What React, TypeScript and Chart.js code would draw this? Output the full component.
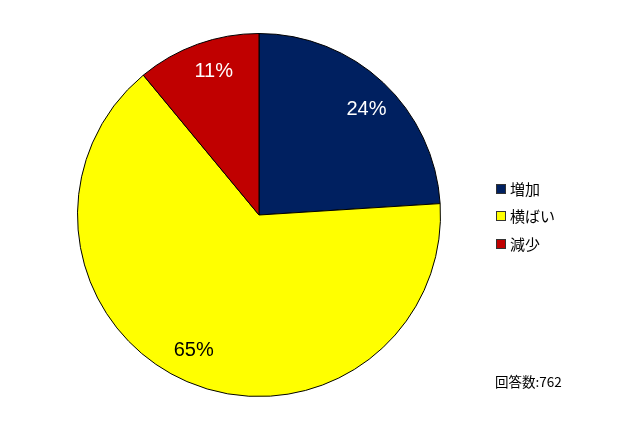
import { useEffect, useRef } from "react";
import { Chart, registerables, type ChartConfiguration, type Plugin } from "chart.js";

Chart.register(...registerables);

const categories = ["増加", "横ばい", "減少"];
const shares = [24, 65, 11];
const sliceColors = ["#002060", "#FFFF00", "#C00000"];
const labelColors = ["#ffffff", "#000000", "#ffffff"];
const respondents = 762;

// percentage labels inside each slice
const sliceLabels: Plugin<"pie"> = {
  id: "sliceLabels",
  afterDatasetsDraw(chart) {
    const { ctx } = chart;
    const meta = chart.getDatasetMeta(0);
    ctx.save();
    ctx.font = '20px "Liberation Sans", Arial, sans-serif';
    ctx.textAlign = "center";
    ctx.textBaseline = "middle";
    meta.data.forEach((el: any, i) => {
      const mid = (el.startAngle + el.endAngle) / 2 + 0.04;
      const r = el.outerRadius * 0.83;
      ctx.fillStyle = labelColors[i];
      ctx.fillText(shares[i] + "%", el.x + Math.cos(mid) * r, el.y + Math.sin(mid) * r);
    });
    ctx.restore();
  },
};

export default function App() {
  const canvasRef = useRef<HTMLCanvasElement>(null);
  const chartRef = useRef<Chart | null>(null);

  useEffect(() => {
    document.body.style.margin = "0";
    if (!canvasRef.current) return;
    const config: ChartConfiguration<"pie"> = {
      type: "pie",
      data: {
        labels: categories,
        datasets: [
          {
            data: shares,
            backgroundColor: sliceColors,
            borderColor: "#000000",
            borderWidth: 1,
          },
        ],
      },
      options: {
        responsive: false,
        animation: false,
        layout: { padding: { left: 77, right: 199, top: 33, bottom: 29 } },
        plugins: { legend: { display: false }, tooltip: { enabled: false } },
      },
      plugins: [sliceLabels],
    };
    chartRef.current = new Chart(canvasRef.current, config);
    return () => {
      chartRef.current?.destroy();
      chartRef.current = null;
    };
  }, []);

  const font = '"Noto Sans CJK JP", "Noto Sans", sans-serif';

  return (
    <div style={{ position: "relative", width: 640, height: 426, background: "#fff" }}>
      <canvas ref={canvasRef} width={640} height={426} role="img" aria-label="増加・横ばい・減少の割合" />
      <div style={{ position: "absolute", left: 496, top: 175, fontFamily: font, fontSize: 15, color: "#000" }}>
        {categories.map((c, i) => (
          <div key={c} style={{ display: "flex", alignItems: "center", height: 27.5 }}>
            <span
              style={{
                display: "inline-block",
                width: 8,
                height: 8,
                background: sliceColors[i],
                border: "1px solid #333",
                marginRight: 4,
              }}
            />
            <span style={{ lineHeight: "20px" }}>{c}</span>
          </div>
        ))}
      </div>
      <div style={{ position: "absolute", left: 495, top: 371, fontFamily: font, fontSize: 13.5, color: "#000" }}>
        回答数:{respondents}
      </div>
    </div>
  );
}
